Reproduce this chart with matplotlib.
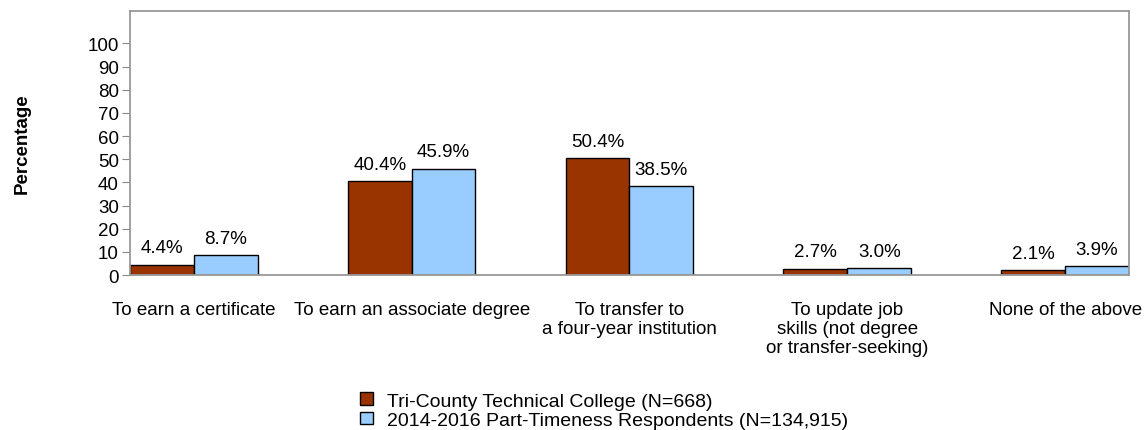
import numpy as np
import matplotlib
matplotlib.use('Agg')
import matplotlib.pyplot as plt
from matplotlib.patches import Patch

plt.rcParams['font.family'] = ['Liberation Sans', 'DejaVu Sans']

categories = ['To earn a certificate', 'To earn an associate degree',
              'To transfer to\na four-year institution',
              'To update job\nskills (not degree\nor transfer-seeking)',
              'None of the above']
college = [4.4, 40.4, 50.4, 2.7, 2.1]
cohort = [8.7, 45.9, 38.5, 3.0, 3.9]
series_names = ['Tri-County Technical College (N=668)',
                '2014-2016 Part-Timeness Respondents (N=134,915)']
colors = ['#993300', '#99ccff']
yticks = list(range(0, 101, 10))

fig = plt.figure(figsize=(11.47, 4.31), dpi=100)
ax = fig.add_axes([0.1133, 0.3596, 0.8710, 0.6125])

x = np.arange(len(categories))
w = 0.293
b1 = ax.bar(x - w/2, college, w, color=colors[0], edgecolor='black', linewidth=1)
b2 = ax.bar(x + w/2, cohort, w, color=colors[1], edgecolor='black', linewidth=1)

for bars, vals in ((b1, college), (b2, cohort)):
    for r, v in zip(bars, vals):
        ax.annotate('%.1f%%' % v, (r.get_x() + r.get_width()/2, v),
                    xytext=(0, 6), textcoords='offset points',
                    ha='center', va='bottom', fontsize=13.5)

ax.set_xlim(-w, len(categories) - 1 + w)
ax.set_ylim(0, 114)
ax.set_yticks(yticks)
ax.set_xticks(x)
ax.set_xticklabels(categories, fontsize=13.5, linespacing=1.15, va='top')
ax.tick_params(axis='x', length=0, pad=19)
ax.tick_params(axis='y', length=6, color='#888888', labelsize=13.5, pad=2)
for s in ax.spines.values():
    s.set_color('#999999')
    s.set_linewidth(1.3)

ax.set_ylabel('Percentage', fontsize=13.5, fontweight='bold', labelpad=41)

handles = [Patch(facecolor=c, edgecolor='black', linewidth=1) for c in colors]
fig.legend(handles, series_names, loc='lower left', bbox_to_anchor=(0.299, -0.038),
           frameon=False, fontsize=14, handlelength=0.65, handleheight=0.6,
           handletextpad=0.7, labelspacing=0.12)

fig.savefig('out.png', dpi=100)
